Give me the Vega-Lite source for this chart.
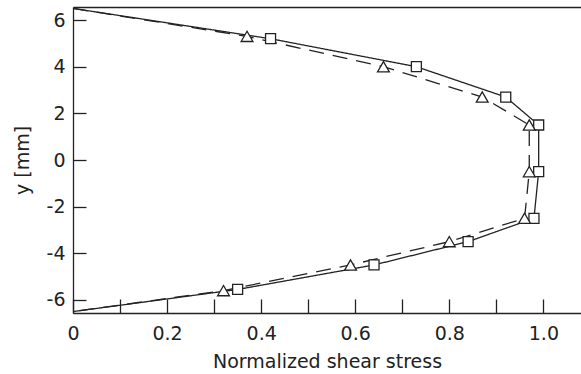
{
  "$schema": "https://vega.github.io/schema/vega-lite/v6.json",
  "width": 508,
  "height": 306,
  "autosize": "none",
  "padding": {"left": 73, "top": 7, "right": 0, "bottom": 61},
  "config": {
    "view": {"stroke": null},
    "font": "DejaVu Sans",
    "axis": {
      "labelFont": "DejaVu Sans",
      "titleFont": "DejaVu Sans",
      "labelFontSize": 19,
      "titleFontSize": 19,
      "titleFontWeight": "normal",
      "labelColor": "#222",
      "titleColor": "#222",
      "domainColor": "#222",
      "tickColor": "#222",
      "domainWidth": 1.3,
      "tickWidth": 1.3,
      "grid": false
    }
  },
  "data": {
    "values": [
      {"series": "A", "order": 0, "x": 0, "y": 6.5},
      {"series": "A", "order": 1, "x": 0.42, "y": 5.2},
      {"series": "A", "order": 2, "x": 0.73, "y": 4.0},
      {"series": "A", "order": 3, "x": 0.92, "y": 2.7},
      {"series": "A", "order": 4, "x": 0.99, "y": 1.5},
      {"series": "A", "order": 5, "x": 0.99, "y": -0.5},
      {"series": "A", "order": 6, "x": 0.98, "y": -2.5},
      {"series": "A", "order": 7, "x": 0.84, "y": -3.5},
      {"series": "A", "order": 8, "x": 0.64, "y": -4.5},
      {"series": "A", "order": 9, "x": 0.35, "y": -5.55},
      {"series": "A", "order": 10, "x": 0, "y": -6.5},
      {"series": "B", "order": 0, "x": 0, "y": 6.5},
      {"series": "B", "order": 1, "x": 0.37, "y": 5.3},
      {"series": "B", "order": 2, "x": 0.66, "y": 4.0},
      {"series": "B", "order": 3, "x": 0.87, "y": 2.7},
      {"series": "B", "order": 4, "x": 0.97, "y": 1.5},
      {"series": "B", "order": 5, "x": 0.97, "y": -0.5},
      {"series": "B", "order": 6, "x": 0.96, "y": -2.5},
      {"series": "B", "order": 7, "x": 0.80, "y": -3.5},
      {"series": "B", "order": 8, "x": 0.59, "y": -4.5},
      {"series": "B", "order": 9, "x": 0.32, "y": -5.6},
      {"series": "B", "order": 10, "x": 0, "y": -6.5}
    ]
  },
  "resolve": {"axis": {"x": "independent"}},
  "layer": [
    {
      "mark": {"type": "line", "color": "#222", "strokeWidth": 1.3},
      "encoding": {
        "x": {
          "field": "x", "type": "quantitative",
          "scale": {"domain": [0, 1.08], "nice": false, "zero": false},
          "axis": {
            "orient": "bottom",
            "title": "Normalized shear stress",
            "values": [0, 0.1, 0.2, 0.3, 0.4, 0.5, 0.6, 0.7, 0.8, 0.9, 1.0],
            "labelExpr": "round(datum.value*10) % 2 == 1 ? '' : (datum.value == 0 ? '0' : format(datum.value, '.1f'))",
            "tickSize": -14,
            "labelPadding": 25,
            "labelFlush": false,
            "labelOverlap": false,
            "titleBaseline": "alphabetic",
            "titleY": 54
          }
        },
        "y": {
          "field": "y", "type": "quantitative",
          "scale": {"domain": [-6.56, 6.56], "nice": false, "zero": false},
          "axis": {
            "title": "y [mm]",
            "values": [-6, -4, -2, 0, 2, 4, 6],
            "labelExpr": "datum.value < 0 ? '-' + abs(datum.value) : '' + datum.value",
            "tickSize": -13,
            "labelPadding": 21,
            "labelFlush": false,
            "labelOverlap": false,
            "titleAngle": -90,
            "titleBaseline": "alphabetic",
            "titleX": -45
          }
        },
        "detail": {"field": "series"},
        "order": {"field": "order", "type": "quantitative"},
        "strokeDash": {
          "field": "series", "type": "nominal",
          "scale": {"domain": ["A", "B"], "range": [[1, 0], [15, 9]]},
          "legend": null
        }
      }
    },
    {
      "transform": [{"filter": "datum.x > 0"}],
      "mark": {"type": "point", "filled": false, "fill": "white", "fillOpacity": 1, "stroke": "#222", "strokeWidth": 1.3, "opacity": 1},
      "encoding": {
        "x": {
          "field": "x", "type": "quantitative",
          "axis": {"orient": "top", "labels": false, "ticks": false, "title": null, "domain": true}
        },
        "y": {"field": "y", "type": "quantitative"},
        "shape": {
          "field": "series", "type": "nominal",
          "scale": {"domain": ["A", "B"], "range": ["square", "triangle-up"]},
          "legend": null
        },
        "size": {
          "field": "series", "type": "nominal",
          "scale": {"domain": ["A", "B"], "range": [100, 140]},
          "legend": null
        }
      }
    }
  ]
}
